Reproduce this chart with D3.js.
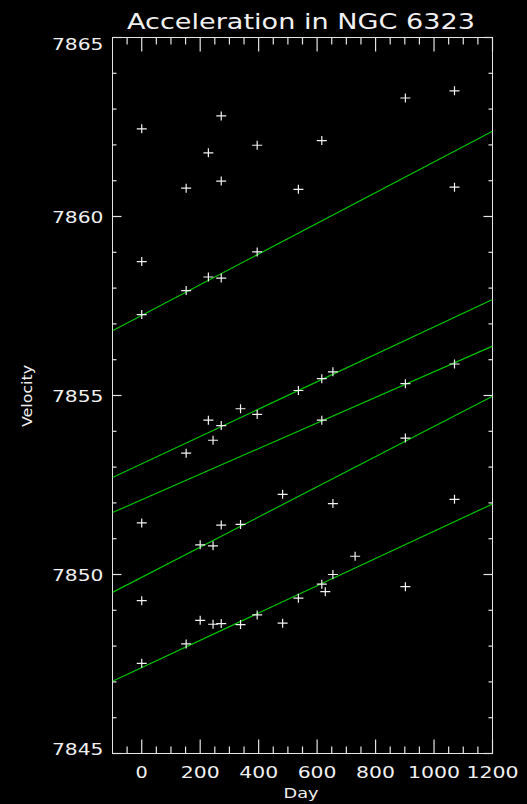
<!DOCTYPE html>
<html>
<head>
<meta charset="utf-8">
<script src="https://cdn.jsdelivr.net/npm/d3@7"></script>
<style>
  html, body { margin: 0; padding: 0; background: #000; }
  svg { display: block; background: #000; }
  text { fill: #f0f0f0; font-family: "DejaVu Sans", sans-serif; font-weight: normal; }
</style>
</head>
<body>
<svg id="chart" width="527" height="804"></svg>
<script>
const obsDay = [
  0, 0, 0, 0, 0, 0,
  152, 152, 152, 152,
  200, 200,
  228, 228, 228,
  244, 244, 244,
  272, 272, 272, 272, 272, 272,
  338, 338, 338,
  395, 395, 395, 395,
  482, 482,
  536, 536, 536,
  616, 616, 616, 616,
  628,
  654, 654, 654,
  730,
  902, 902, 902, 902,
  1070, 1070, 1070, 1070
];
const obsVel = [
  7862.45, 7858.74, 7857.26, 7851.44, 7849.27, 7847.52,
  7860.79, 7857.93, 7853.39, 7848.06,
  7850.83, 7848.72,
  7861.78, 7858.31, 7854.31,
  7853.75, 7850.80, 7848.61,
  7862.81, 7860.99, 7858.28, 7854.16, 7851.38, 7848.63,
  7854.63, 7851.40, 7848.60,
  7861.99, 7859.01, 7854.47, 7848.87,
  7852.24, 7848.64,
  7860.76, 7855.14, 7849.34,
  7862.12, 7855.47, 7854.31, 7849.73,
  7849.52,
  7855.66, 7851.98, 7850.00,
  7850.51,
  7863.31, 7855.33, 7853.81, 7849.66,
  7863.51, 7860.82, 7855.88, 7852.10
];

// fitted lines: velocity at day -100 and at day 1200
const fitStartVel = [7856.81, 7852.71, 7851.73, 7849.50, 7847.02];
const fitEndVel   = [7862.38, 7857.68, 7856.38, 7854.98, 7851.97];

const xDomain = [-100, 1200];
const yDomain = [7845, 7865];
const xTickLabels = [0, 200, 400, 600, 800, 1000, 1200];
const yTickLabels = [7845, 7850, 7855, 7860, 7865];

const svg = d3.select('#chart');

const x = d3.scaleLinear().domain(xDomain).range([112.5, 492.5]);
const y = d3.scaleLinear().domain(yDomain).range([753.5, 37.5]);

const xMinor = d3.range(-50, 1200, 50).filter(d => d % 200 !== 0);
const yMinor = d3.range(7846, 7865, 1).filter(d => d % 5 !== 0);

const axisColor = '#e4e4e4';
const [boxLeft, boxRight] = x.range();
const [boxBottom, boxTop] = y.range();

// plot box
svg.append('rect')
  .attr('x', boxLeft).attr('y', boxTop)
  .attr('width', boxRight - boxLeft).attr('height', boxBottom - boxTop)
  .attr('fill', 'none')
  .attr('stroke', axisColor)
  .attr('stroke-width', 1.3)
  .attr('shape-rendering', 'crispEdges');

// tick labels
svg.append('g')
  .selectAll('text')
  .data(xTickLabels)
  .enter()
  .append('text')
  .attr('x', d => x(d))
  .attr('y', 778)
  .attr('text-anchor', 'middle')
  .attr('font-size', 15.5)
  .attr('textLength', d => String(d).length * 13.3 - 1)
  .attr('lengthAdjust', 'spacingAndGlyphs')
  .text(d => d);

svg.append('g')
  .selectAll('text')
  .data(yTickLabels)
  .enter()
  .append('text')
  .attr('x', 103.5)
  .attr('y', d => {
    // end labels are kept inside the box height
    if (d === yDomain[1]) return y(d) + 12;
    if (d === yDomain[0]) return y(d) + 1;
    return y(d) + 6.5;
  })
  .attr('text-anchor', 'end')
  .attr('font-size', 15.5)
  .attr('textLength', 51.5)
  .attr('lengthAdjust', 'spacingAndGlyphs')
  .text(d => d);

// titles
svg.append('text')
  .attr('x', 301).attr('y', 28.5)
  .attr('text-anchor', 'middle')
  .attr('font-size', 20.5)
  .attr('textLength', 348)
  .attr('lengthAdjust', 'spacingAndGlyphs')
  .text('Acceleration in NGC 6323');

svg.append('text')
  .attr('x', 301).attr('y', 798)
  .attr('text-anchor', 'middle')
  .attr('font-size', 13.5)
  .attr('textLength', 35)
  .attr('lengthAdjust', 'spacingAndGlyphs')
  .text('Day');

svg.append('text')
  .attr('transform', 'translate(32,396) rotate(-90)')
  .attr('text-anchor', 'middle')
  .attr('font-size', 13.5)
  .attr('textLength', 62)
  .attr('lengthAdjust', 'spacingAndGlyphs')
  .text('Velocity');

// fit lines, clipped to the box
svg.append('clipPath')
  .attr('id', 'plot-clip')
  .append('rect')
  .attr('x', boxLeft).attr('y', boxTop)
  .attr('width', boxRight - boxLeft).attr('height', boxBottom - boxTop);

const line = d3.line()
  .x(d => x(d[0]))
  .y(d => y(d[1]));

svg.append('g')
  .attr('clip-path', 'url(#plot-clip)')
  .selectAll('path')
  .data(fitStartVel.map((v, i) => [[xDomain[0], v], [xDomain[1], fitEndVel[i]]]))
  .enter()
  .append('path')
  .attr('d', line)
  .attr('fill', 'none')
  .attr('stroke', '#00c400')
  .attr('stroke-width', 1.2);

// observation markers
svg.append('g')
  .selectAll('path')
  .data(obsDay.map((d, i) => [d, obsVel[i]]))
  .enter()
  .append('path')
  .attr('transform', d => `translate(${x(d[0])},${y(d[1])})`)
  .attr('d', 'M-5,0H5M0,-4.5V4.5')
  .attr('stroke', '#f2f2f2')
  .attr('stroke-width', 1.2)
  .attr('fill', 'none');

// ticks on all four sides, pointing inwards: [value, length, side]
const tickSpecs = [];
xTickLabels.forEach(d => { tickSpecs.push([d, 14, 'b'], [d, 14, 't']); });
xMinor.forEach(d => { tickSpecs.push([d, 7, 'b'], [d, 7, 't']); });
yTickLabels.forEach(d => { tickSpecs.push([d, 9, 'l'], [d, 9, 'r']); });
yMinor.forEach(d => { tickSpecs.push([d, 4, 'l'], [d, 4, 'r']); });

function tickPath([v, len, side]) {
  if (side === 'b') return `M${x(v)},${boxBottom}v${-len}`;
  if (side === 't') return `M${x(v)},${boxTop}v${len}`;
  if (side === 'l') return `M${boxLeft},${y(v)}h${len}`;
  return `M${boxRight},${y(v)}h${-len}`;
}

svg.append('g')
  .selectAll('path')
  .data(tickSpecs)
  .enter()
  .append('path')
  .attr('d', tickPath)
  .attr('stroke', axisColor)
  .attr('stroke-width', 1.2)
  .attr('fill', 'none');
</script>
</body>
</html>
